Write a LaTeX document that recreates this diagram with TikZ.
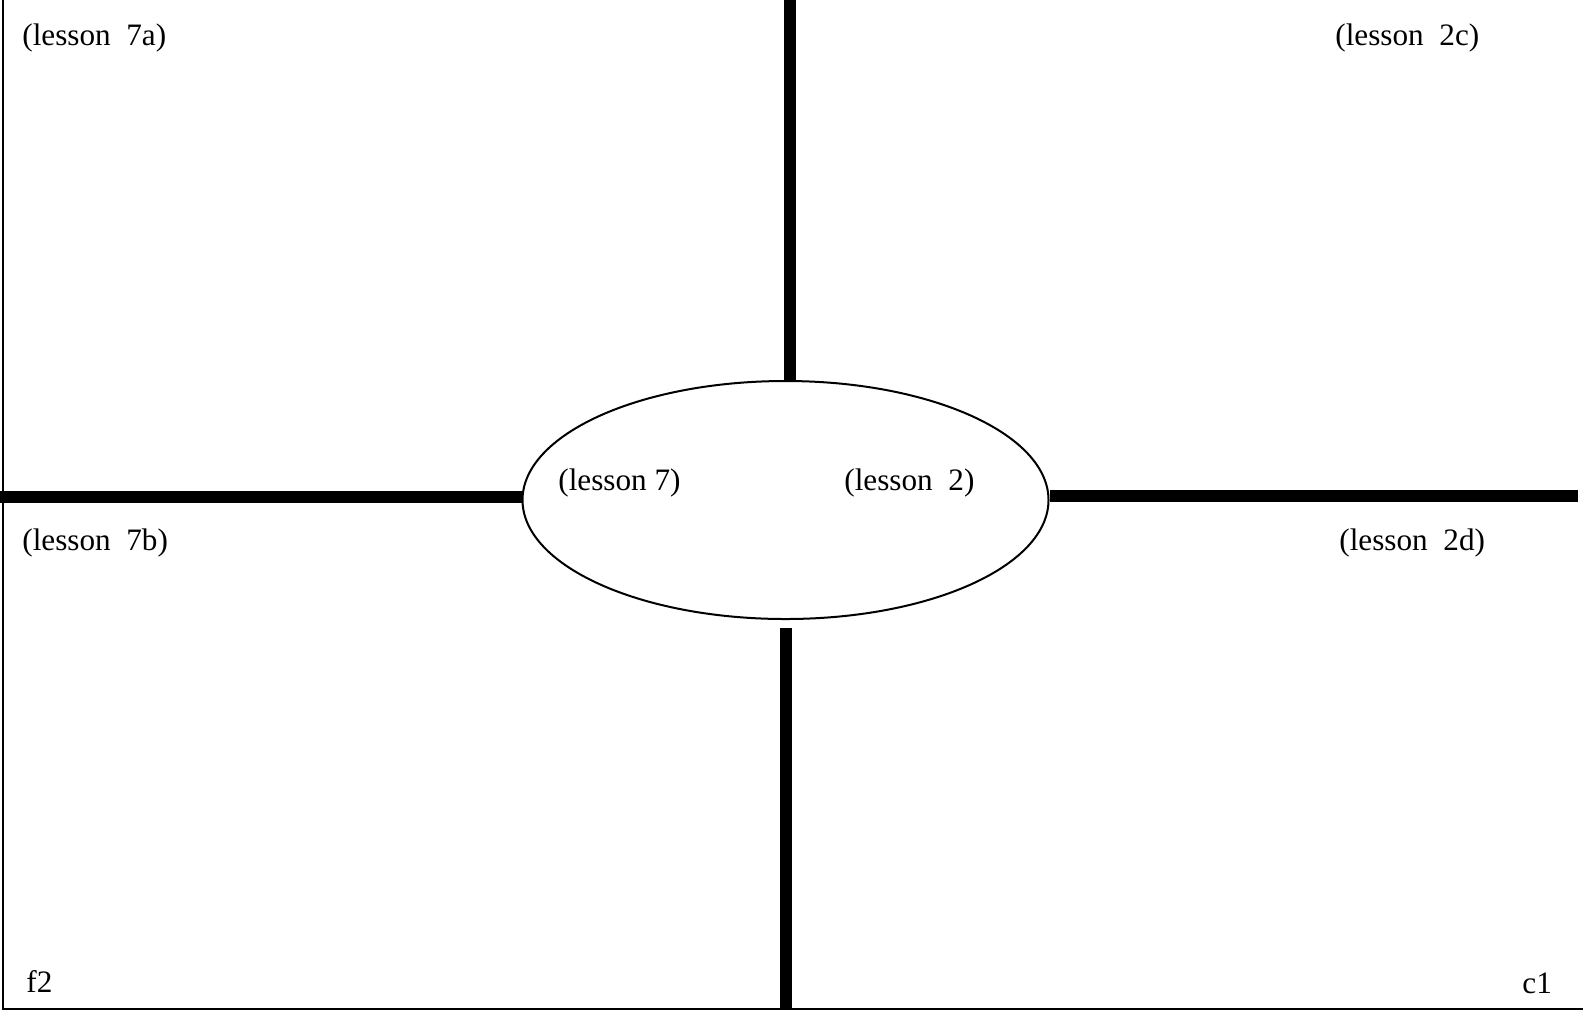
\documentclass[tikz,border=0pt]{standalone}
\usepackage{fontspec}
\setmainfont{Liberation Serif}
\usetikzlibrary{shapes.geometric}
\begin{document}
\begin{tikzpicture}[x=0.5pt,y=-0.5pt,
  border/.style={line width=1.3pt},
  bar/.style={line width=6pt},
  lbl/.style={anchor=base west,inner sep=0pt,font=\fontsize{15.6}{18}\selectfont},
  hub/.style={ellipse,draw,line width=1pt,minimum width=263pt,minimum height=119pt,inner sep=0pt}]
\useasboundingbox (0,0) rectangle (1583,1014);
\coordinate (tl) at (3,0);
\coordinate (bl) at (3,1009);
\coordinate (br) at (1583,1009);
\draw[border] (tl) -- (bl) -- (br);
\node[hub] (ell) at (785.5,500) {};
\coordinate (top) at (790,0);
\coordinate (bot) at (786,1009);
\coordinate (lft) at (0,497);
\coordinate (rgt) at (1578,496);
\draw[bar] (top) -- (top |- ell.north);
\draw[bar] (bot) -- (786,628);
\draw[bar] (lft) -- (ell.west |- lft);
\draw[bar] (rgt) -- (ell.east |- rgt);
\node[lbl] (a) at (22,45) {(lesson\ \ 7a)};
\node[lbl] (c) at (1335,45) {(lesson\ \ 2c)};
\node[lbl] (b) at (22,550) {(lesson\ \ 7b)};
\node[lbl] (d) at (1339,550) {(lesson\ \ 2d)};
\node[lbl] (l7) at (558,490) {(lesson 7)};
\node[lbl] (l2) at (844,490) {(lesson\ \ 2)};
\node[lbl] (f) at (26,992) {f2};
\node[lbl] (c1) at (1522,993) {c1};
\end{tikzpicture}
\end{document}
